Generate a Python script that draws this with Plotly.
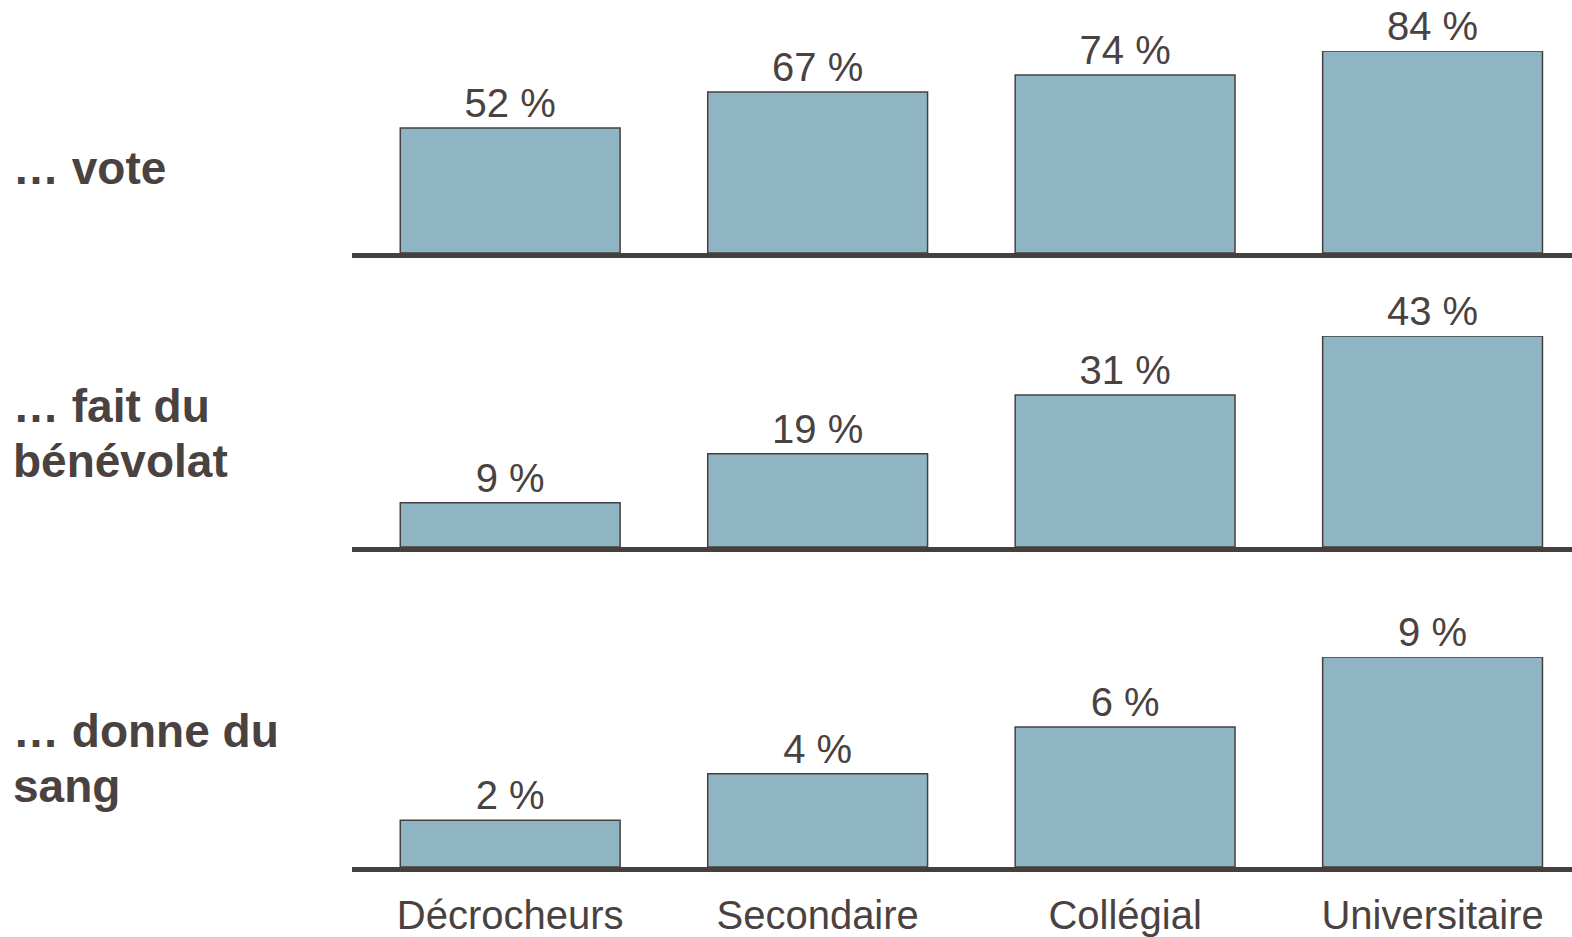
import plotly.graph_objects as go

categories = ["Décrocheurs", "Secondaire", "Collégial", "Universitaire"]
vote = [52, 67, 74, 84]
benevolat = [9, 19, 31, 43]
sang = [2, 4, 6, 9]
row_labels = [["… vote"], ["… fait du", "bénévolat"], ["… donne du", "sang"]]

series = [vote, benevolat, sang]

BAR = "#8fb4c4"
DARK = "#46403d"
TXT = "#4a4240"
FONT = "Liberation Sans, Arial, sans-serif"

W, HT = 1572, 937
L = 352
BOTTOM = 867  # pixel of lowest baseline
B = HT - BOTTOM
PH = HT - B

def py(px):
    return (BOTTOM - px) / PH

def pxx(px):
    return (px - L) / (W - L)

fig = go.Figure()
axis_ids = ["", "2", "3"]
for i, vals in enumerate(series):
    fig.add_trace(go.Bar(
        x=categories, y=vals,
        text=[f"{v} %" for v in vals],
        textposition="outside",
        textfont=dict(size=40, color=TXT, family=FONT),
        cliponaxis=False,
        marker=dict(color=BAR, line=dict(color=DARK, width=1.5)),
        xaxis="x" + axis_ids[i], yaxis="y" + axis_ids[i],
        showlegend=False, hoverinfo="skip",
    ))

domains = [(py(253), py(51)), (py(547), py(336)), (py(867), py(657))]
ranges = [[0, max(vote)], [0, max(benevolat)], [0, max(sang)]]

layout = dict(
    width=W, height=HT,
    margin=dict(l=L, r=0, t=0, b=B, autoexpand=False),
    paper_bgcolor="white", plot_bgcolor="white",
    bargap=0.285,
    font=dict(family=FONT, color=TXT),
)
for i in range(3):
    xa = "xaxis" + axis_ids[i]
    ya = "yaxis" + axis_ids[i]
    layout[xa] = dict(
        domain=[0, 1], anchor="y" + axis_ids[i],
        range=[-0.5145, 3.4535], showline=True, linewidth=4.5, linecolor=DARK,
        showgrid=False, zeroline=False, ticks="",
        showticklabels=(i == 2), automargin=False,
        ticklabelstandoff=9,
        tickfont=dict(size=40, color=TXT, family=FONT),
        fixedrange=True,
    )
    layout[ya] = dict(
        domain=list(domains[i]), anchor="x" + axis_ids[i],
        range=ranges[i], visible=False, fixedrange=True, automargin=False,
    )
fig.update_layout(**layout)

line_y = [[168], [406, 461], [731, 786]]
for lines, ys in zip(row_labels, line_y):
    for txt, yy in zip(lines, ys):
        fig.add_annotation(
            text=txt, xref="paper", yref="paper",
            x=pxx(11), y=py(yy), xanchor="left", yanchor="middle",
            align="left", showarrow=False,
            font=dict(size=46, color=TXT, family=FONT, weight="bold"),
        )

fig.write_html(
    "out.html",
    config={"displayModeBar": False},
    post_script="document.body.style.margin='0';document.body.style.overflow='hidden';",
)
